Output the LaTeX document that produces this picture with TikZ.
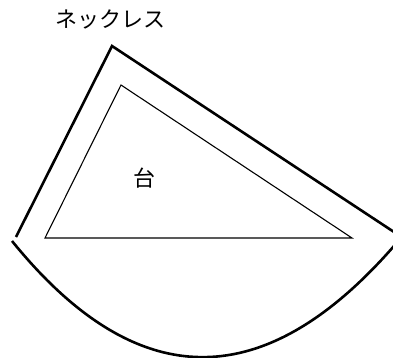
\documentclass[tikz,border=0pt]{standalone}
\usepackage{fontspec}
\newfontfamily\jpfont{Noto Sans CJK JP}
\usepackage{tikz}
\usetikzlibrary{positioning}
\definecolor{inkblack}{RGB}{0, 0, 0}

\begin{document}
\begin{tikzpicture}[x=1pt, y=-1pt]
    \useasboundingbox (0, 0) rectangle (393, 358);

    % Label: ネックレス
    \node[inner sep=0pt, font=\jpfont\fontsize{22}{26}\selectfont, text=inkblack] (necklace) at (110, 19) {ネックレス};

    % Outer outline (thick)
    \coordinate (otop) at (112, 46);
    \coordinate (oleft) at (16, 237);
    \coordinate (oright) at (394, 232);
    \draw[draw=inkblack, line width=2.6pt, line join=miter]
        (oleft) -- (otop) -- (oright);
    \coordinate (cleft) at (12, 241);
    \coordinate (cright) at (394, 246);
    \draw[draw=inkblack, line width=2.6pt]
        (cleft) .. controls (136, 394) and (263, 396) .. (cright);

    % Inner triangle: 台
    \coordinate (itop) at (121, 85);
    \coordinate (ileft) at (45, 238);
    \coordinate (iright) at (352, 238);
    \draw[draw=inkblack, line width=1.1pt, line join=miter] (ileft) -- (itop) -- (iright) -- cycle;
    \node[inner sep=0pt, font=\jpfont\fontsize{22}{26}\selectfont, text=inkblack] (stand) at (144, 178) {台};
\end{tikzpicture}
\end{document}
